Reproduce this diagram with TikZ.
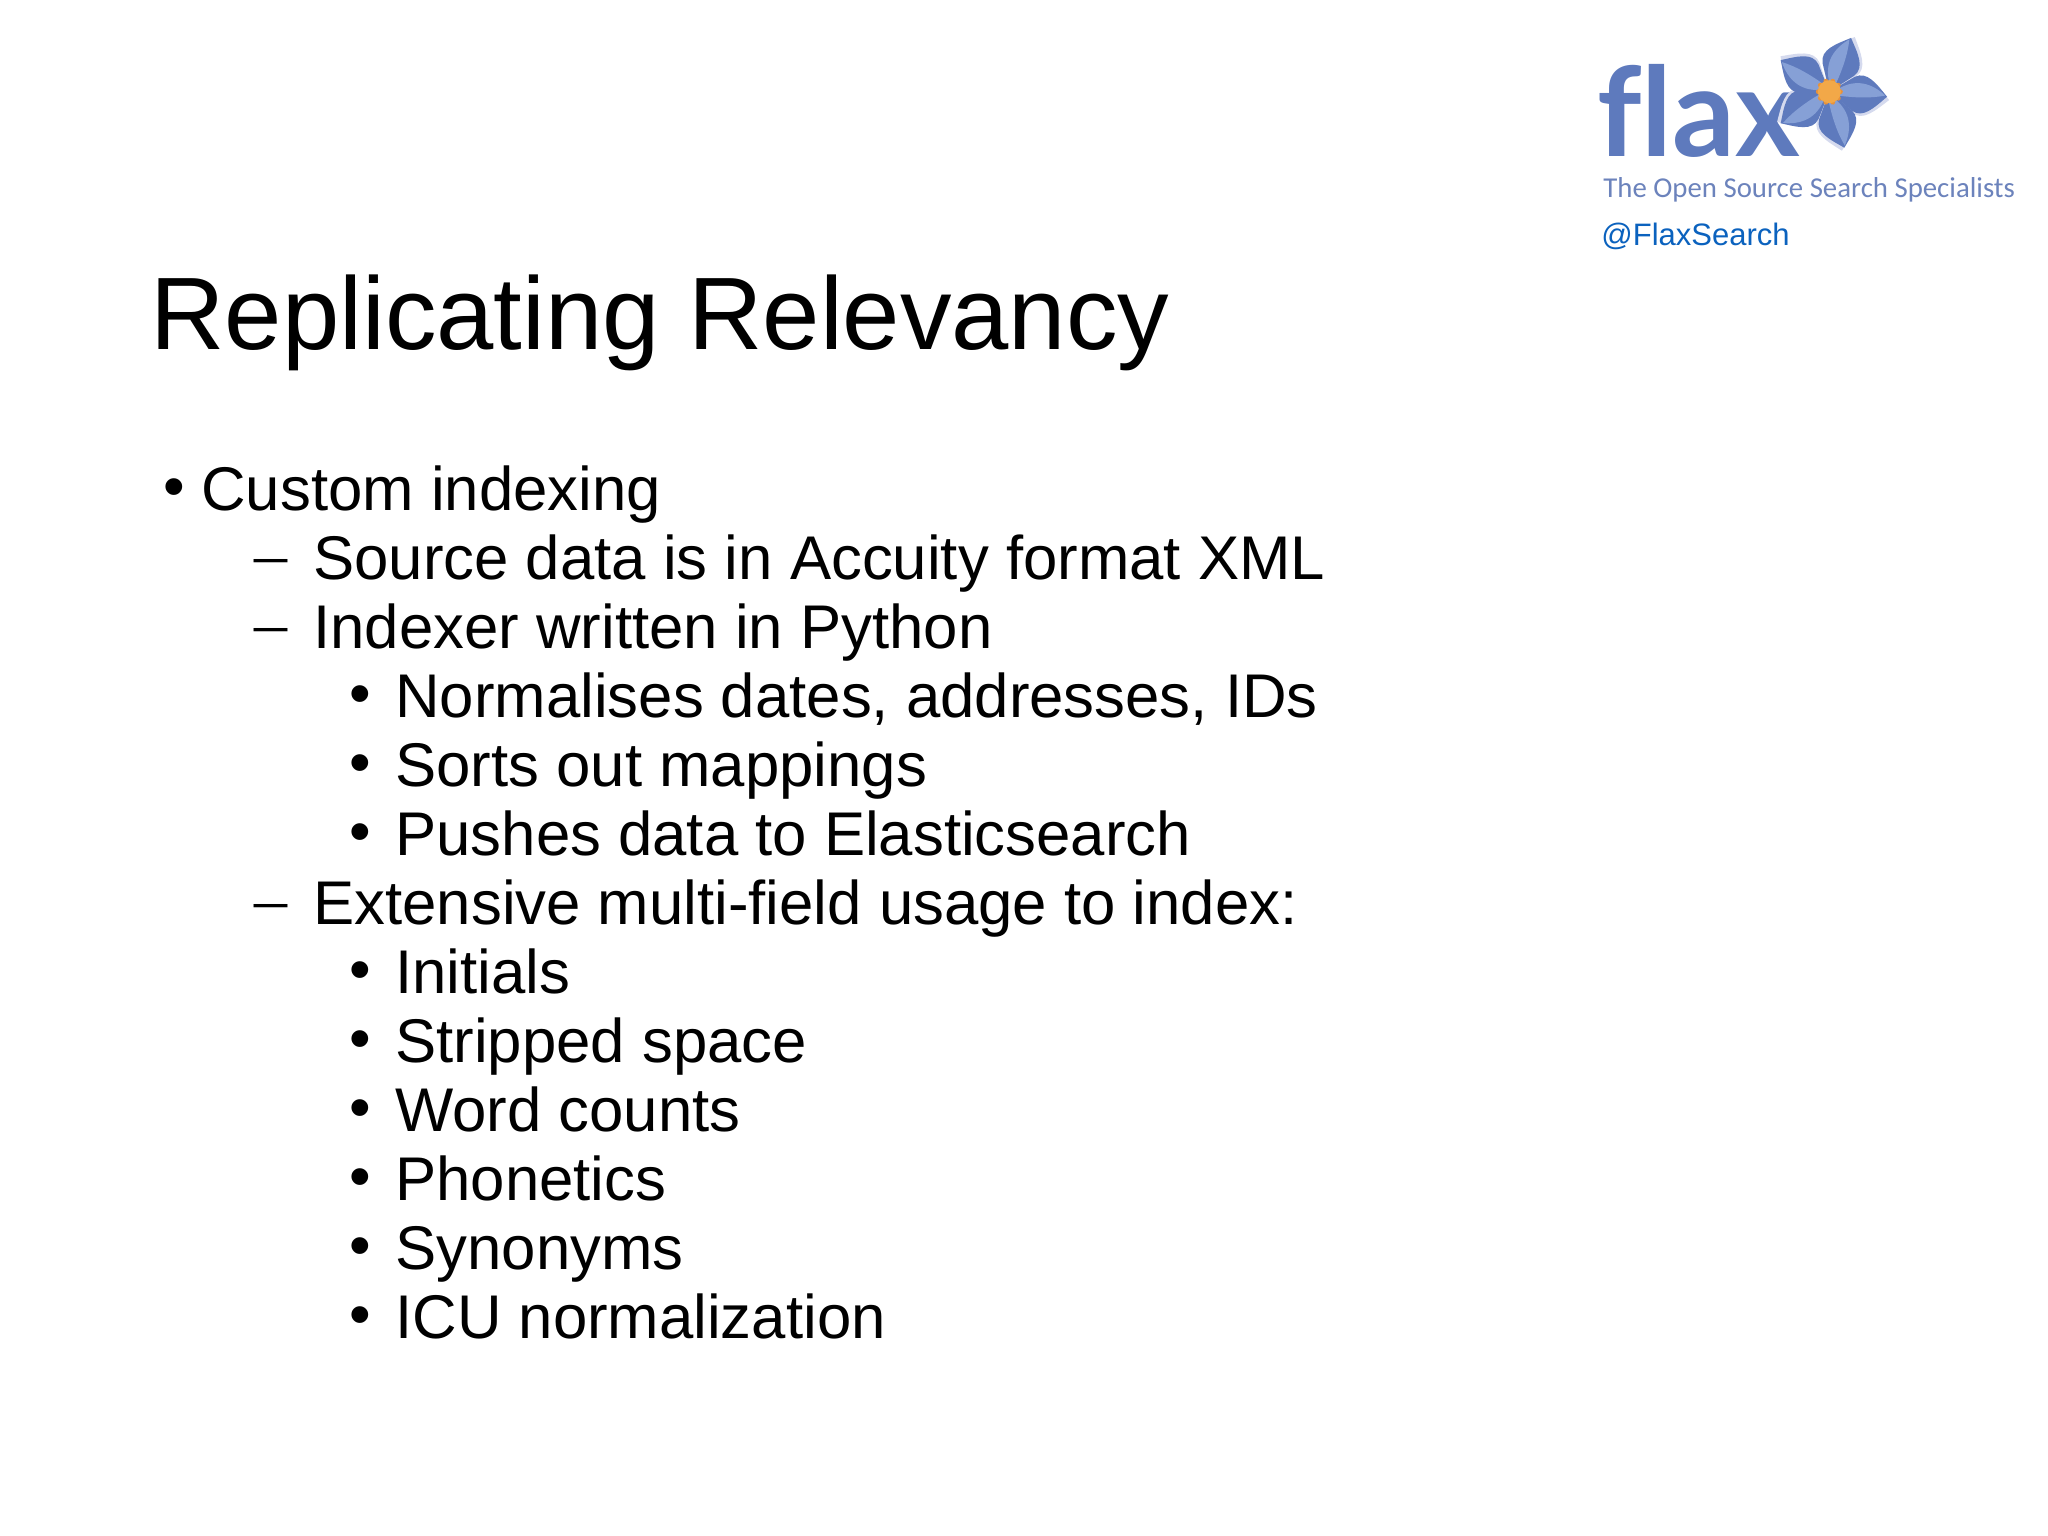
\documentclass[tikz,border=0pt]{standalone}
\usepackage{fontspec}
\setmainfont{Liberation Sans}
\newfontfamily\logofont{Lato}
\newfontfamily\tagfont{Carlito}
\newfontfamily\dashfont{Liberation Serif}
\definecolor{flaxblue}{HTML}{5E7ABD}
\definecolor{flaxtag}{HTML}{6C83BC}
\definecolor{flaxlink}{HTML}{0B62BE}
\definecolor{petallight}{HTML}{86A0D6}
\definecolor{petaledge}{HTML}{D5DAEE}
\definecolor{flaxheart}{HTML}{F2A848}
\definecolor{flaxheartdark}{HTML}{E8923A}

\begin{document}
\begin{tikzpicture}[x=0.5pt, y=-0.5pt, node distance={34.5pt},
	main/.style = {inner sep=0pt, text width=560pt, align=flush left, text height=24pt, text depth=8pt, font=\fontsize{30.85pt}{36pt}\selectfont},
	dotmark/.style = {inner sep=0pt, anchor=base west, font=\fontsize{30.85pt}{36pt}\selectfont},
	dashmark/.style = {inner sep=0pt, anchor=base west, font=\fontsize{33pt}{36pt}\dashfont},
	logotext/.style = {inner sep=0pt, anchor=base west}]
	\useasboundingbox (0,0) rectangle (2048,1535);
	\fill[white] (0,0) rectangle (2048,1535);

	\node[inner sep=0pt, anchor=base west, font=\fontsize{51.5pt}{56pt}\selectfont] (title) at (150,350) {Replicating Relevancy};

	\node[main, anchor=base west] (custom) at (201,510) {Custom indexing};
	\node[main] (source) [below of=custom, xshift=56pt] {Source data is in Accuity format XML};
	\node[main] (indexer) [below of=source] {Indexer written in Python};
	\node[main] (normalises) [below of=indexer, xshift=41pt] {Normalises dates, addresses, IDs};
	\node[main] (mappings) [below of=normalises] {Sorts out mappings};
	\node[main] (pushes) [below of=mappings] {Pushes data to Elasticsearch};
	\node[main] (multifield) [below of=pushes, xshift=-41pt] {Extensive multi-field usage to index:};
	\node[main] (initials) [below of=multifield, xshift=41pt] {Initials};
	\node[main] (stripped) [below of=initials] {Stripped space};
	\node[main] (counts) [below of=stripped] {Word counts};
	\node[main] (phonetics) [below of=counts] {Phonetics};
	\node[main] (synonyms) [below of=phonetics] {Synonyms};
	\node[main] (icu) [below of=synonyms] {ICU normalization};

	\node[dotmark] (dot1) at ([xshift=-19pt, yshift=1.5pt]custom.base west) {•};
	\foreach \item in {source, indexer, multifield}
		\node[dashmark] (dash-\item) at ([xshift=-29.5pt, yshift=1.5pt]\item.base west) {–};
	\foreach \item in {normalises, mappings, pushes, initials, stripped, counts, phonetics, synonyms, icu}
		\node[dotmark] (dot-\item) at ([xshift=-23pt, yshift=1.5pt]\item.base west) {•};

	% logo
	\node[logotext, text=flaxblue, font=\fontsize{62pt}{70pt}\logofont\bfseries] (flax) at (1597,157) {f\kern0pt lax};
	\node[logotext, text=flaxtag, font=\fontsize{14.4pt}{18pt}\tagfont] (tagline) at (1603,198) {The Open Source Search Specialists};
	\node[logotext, text=flaxlink, font=\fontsize{15.5pt}{20pt}\selectfont] (twitter) at (1601,246) {@FlaxSearch};

	% flower
	\foreach \a in {68,-5,-75,-147,147} {
		\fill[petaledge, shift={(1829.3,91.7)}, rotate=\a-3, scale=1.04] (0,0) -- (24,-17) .. controls (36,-24) and (46,-12) .. (58,0) .. controls (46,12) and (36,24) .. (24,17) -- cycle;
	}
	\foreach \a in {68,-5,-75,-147,147} {
		\fill[flaxblue, shift={(1829.3,91.7)}, rotate=\a] (0,0) -- (24,-17) .. controls (36,-24) and (46,-12) .. (58,0) .. controls (46,12) and (36,24) .. (24,17) -- cycle;
		\fill[petallight, shift={(1829.3,91.7)}, rotate=\a] (8,-3) .. controls (25,-16) and (42,-12) .. (56,-1) .. controls (42,3) and (25,4) .. (8,3) -- cycle;
	}
	\foreach \a in {0,36,...,324} {
		\fill[flaxheartdark, shift={(1829.3,91.7)}, rotate=\a] (11,0) circle (2.5);
	}
	\fill[flaxheart] (1829.3,91.7) circle (11.5);
\end{tikzpicture}
\end{document}
